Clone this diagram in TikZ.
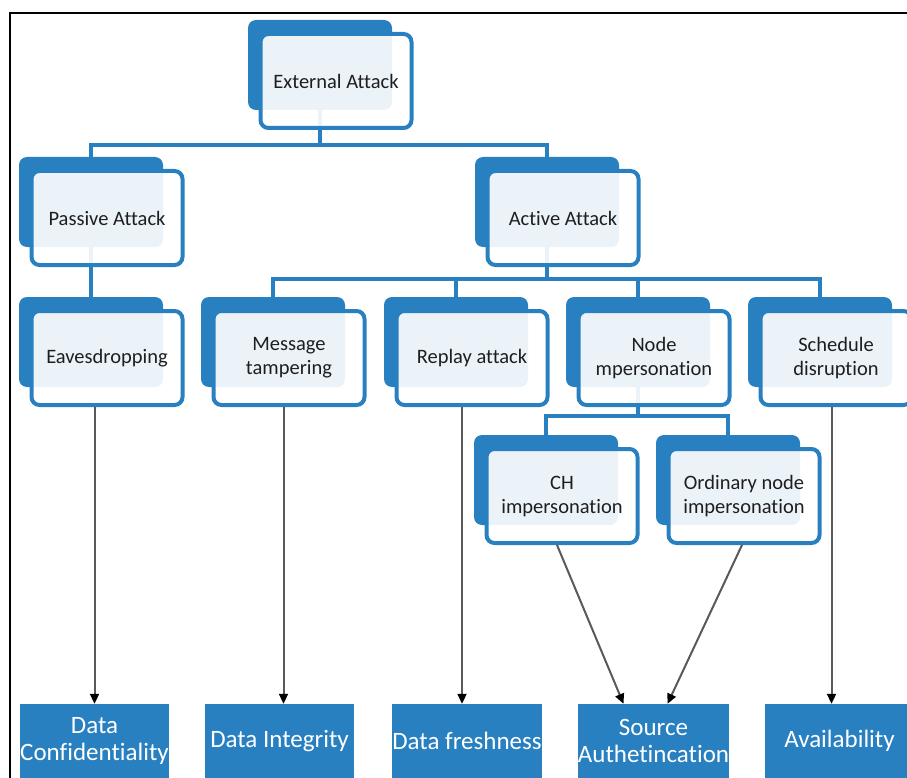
\documentclass[tikz,border=0pt]{standalone}
\usepackage{fontspec}
\setmainfont{Carlito}[Ligatures=NoCommon]
\usetikzlibrary{arrows.meta, backgrounds}
\definecolor{attackblue}{RGB}{40,128,192}
\definecolor{labelgray}{RGB}{30,30,30}

\tikzset{
	backbox/.style={fill=attackblue, rounded corners=8pt, minimum width=144pt, minimum height=90pt, inner sep=0pt},
	frontbox/.style={draw=attackblue, line width=4pt, fill=white, fill opacity=0.91, text opacity=1,
		rounded corners=8pt, minimum width=151pt, minimum height=94pt, inner sep=0pt,
		align=center, text=labelgray, font=\fontsize{20.5}{24}\selectfont, shift={(16,16)}},
	goalbox/.style={fill=attackblue, minimum width=149pt, minimum height=74pt, inner sep=0pt,
		align=center, text=white, font=\fontsize{25}{27}\selectfont},
	tree/.style={draw=attackblue, line width=4pt},
	impact/.style={draw=black!65, line width=2pt, -{Triangle[length=10pt, width=9pt, color=black]}},
}

\begin{document}
\begin{tikzpicture}[x=1pt, y=-1pt]
	\useasboundingbox (0,0) rectangle (907,778);
	\draw[line width=2.5pt] (907,13) -- (10,13) -- (10,778);

	\node[backbox] (ext-b) at (320,65) {};
	\node[frontbox] (ext) at (ext-b) {External Attack};

	\node[backbox] (passive-b) at (91,202) {};
	\node[frontbox] (passive) at (passive-b) {Passive Attack};
	\node[backbox] (active-b) at (547,202) {};
	\node[frontbox] (active) at (active-b) {Active Attack};

	\node[backbox] (eaves-b) at (91,342) {};
	\node[frontbox] (eaves) at (eaves-b) {Eavesdropping};
	\node[backbox] (msg-b) at (273,342) {};
	\node[frontbox] (msg) at (msg-b) {Message\\tampering};
	\node[backbox] (replay-b) at (456,342) {};
	\node[frontbox] (replay) at (replay-b) {Replay attack};
	\node[backbox] (nodeimp-b) at (638,342) {};
	\node[frontbox] (nodeimp) at (nodeimp-b) {Node\\mpersonation};
	\node[backbox] (sched-b) at (820,342) {};
	\node[frontbox] (sched) at (sched-b) {Schedule\\disruption};

	\node[backbox] (chimp-b) at (546,480) {};
	\node[frontbox] (chimp) at (chimp-b) {CH\\impersonation};
	\node[backbox] (ordimp-b) at (728,480) {};
	\node[frontbox] (ordimp) at (ordimp-b) {Ordinary node\\impersonation};

	\node[goalbox] (conf) at (94.5,741) {Data\\Confidentiality};
	\node[goalbox] (integ) at (279.5,741) {Data Integrity};
	\node[goalbox] (fresh) at (467,741) {Data freshness};
	\node[goalbox] (auth) at (653.5,741) {Source\\Authetincation};
	\node[goalbox] (avail) at (839.5,741) {Availability};

	\coordinate (split1) at (320,145);
	\coordinate (split2) at (547,279);
	\coordinate (split3) at (638,416);

	\begin{scope}[on background layer]
		\draw[tree] (ext-b) -- (split1) -| (passive-b.north);
		\draw[tree] (split1) -| (active-b.north);
		\draw[tree] (passive-b) -- (eaves-b);
		\draw[tree] (active-b) -- (split2);
		\draw[tree] (msg-b.north) |- (split2) -| (sched-b.north);
		\draw[tree] (replay-b.north) -- (replay-b.north |- split2);
		\draw[tree] (nodeimp-b.north) -- (nodeimp-b.north |- split2);
		\draw[tree] (nodeimp-b) -- (split3);
		\draw[tree] (chimp-b.north) |- (split3) -| (ordimp-b.north);
	\end{scope}

	\draw[impact] (conf |- eaves.south) -- (conf);
	\draw[impact] ([xshift=4pt]integ.north |- msg.south) -- ([xshift=4pt]integ.north);
	\draw[impact] ([xshift=-5pt]fresh.north |- replay.south) -- ([xshift=-5pt]fresh.north);
	\draw[impact] ([xshift=-5pt]chimp.south) -- ([xshift=-30pt]auth.north);
	\draw[impact] ([xshift=-2pt]ordimp.south) -- ([xshift=14pt]auth.north);
	\draw[impact] ([xshift=-8pt]avail.north |- sched.south) -- ([xshift=-8pt]avail.north);
\end{tikzpicture}
\end{document}
